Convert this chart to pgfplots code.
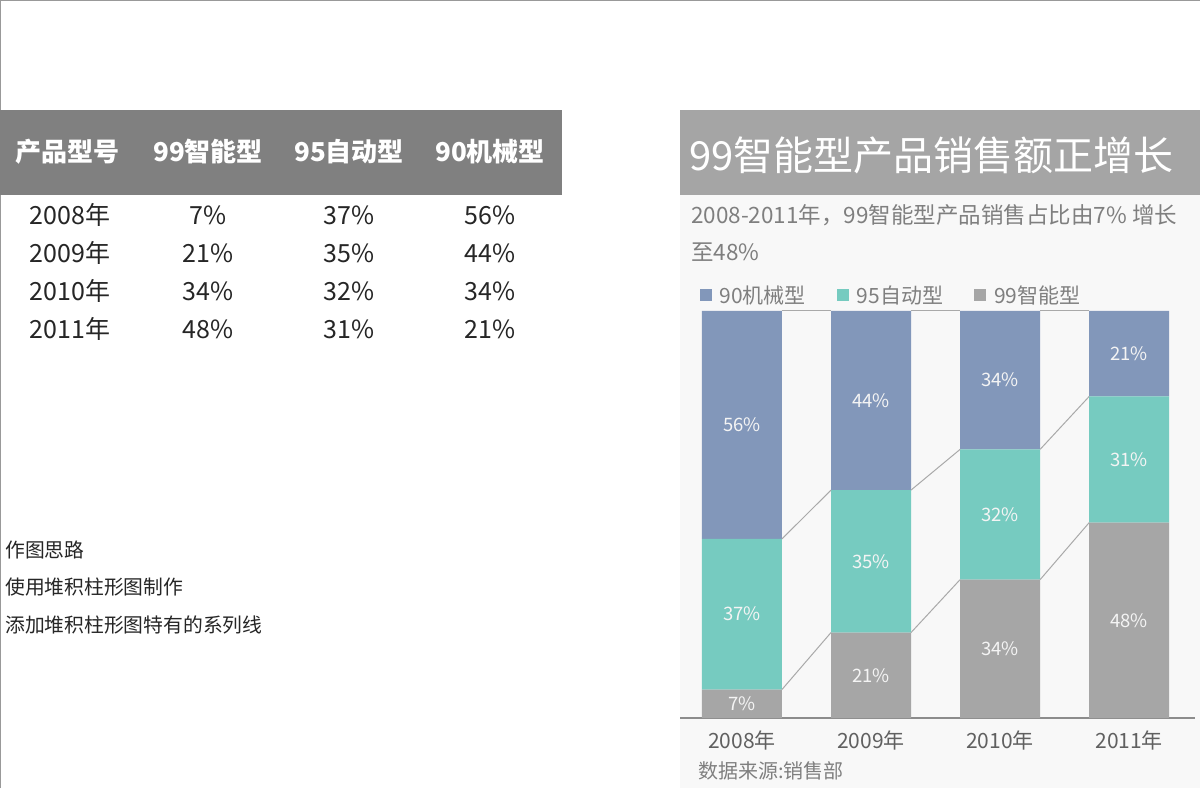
\documentclass[border=0pt]{standalone}
\usepackage{pgfplots}
\pgfplotsset{compat=1.18}
\usepackage{fontspec}
\setmainfont{Noto Sans CJK SC}
\definecolor{headgray}{HTML}{808080}
\definecolor{titlegray}{HTML}{A5A5A5}
\definecolor{panel}{HTML}{F8F8F8}
\definecolor{c90}{HTML}{8297BA}
\definecolor{c95}{HTML}{76CBC0}
\definecolor{c99}{HTML}{A6A6A6}
\definecolor{subgray}{HTML}{7F7F7F}
\definecolor{tickgray}{HTML}{606060}
\definecolor{linegray}{HTML}{A9A9A9}
\definecolor{axisgray}{HTML}{8C8C8C}
\definecolor{labc}{HTML}{F4F4F4}
\newcommand\fs[1]{\fontsize{#1}{#1}\selectfont}

\begin{document}
\begin{tikzpicture}[x=1pt,y=1pt]
\path[use as bounding box] (0,0) rectangle (1200,788);
\fill[white] (0,0) rectangle (1200,788);
\draw[gray!80, line width=1pt] (0.5,0) -- (0.5,787.5) -- (1200,787.5);

% data table on the left
\fill[headgray] (0,593) rectangle (562,678);
\begin{scope}[every node/.style={inner sep=0pt, text=white, font=\fs{26}\bfseries}]
  \node at (68,636) {产品型号};
  \node at (208,636) {99智能型};
  \node at (349,636) {95自动型};
  \node at (490,636) {90机械型};
\end{scope}
\begin{scope}[every node/.style={inner sep=0pt, text=black!85, font=\fs{25}}]
  \node at (70,573) {2008年}; \node at (208,573) {7\%};  \node at (349,573) {37\%}; \node at (490,573) {56\%};
  \node at (70,535) {2009年}; \node at (208,535) {21\%}; \node at (349,535) {35\%}; \node at (490,535) {44\%};
  \node at (70,497) {2010年}; \node at (208,497) {34\%}; \node at (349,497) {32\%}; \node at (490,497) {34\%};
  \node at (70,459) {2011年}; \node at (208,459) {48\%}; \node at (349,459) {31\%}; \node at (490,459) {21\%};
\end{scope}

% notes
\begin{scope}[every node/.style={inner sep=0pt, anchor=west, text=black!85, font=\fs{19.8}}]
  \node at (5,238) {作图思路};
  \node at (5,201) {使用堆积柱形图制作};
  \node at (5,163) {添加堆积柱形图特有的系列线};
\end{scope}

% chart panel
\fill[panel] (680,0) rectangle (1200,593);
\fill[titlegray] (680,593) rectangle (1200,678);
\node[inner sep=0pt, anchor=west, text=white, font=\fs{40}] at (689,633) {99智能型产品销售额正增长};
\node[inner sep=0pt, anchor=west, text=subgray, font=\fs{22.5}] at (691,573) {2008-2011年，99智能型产品销售占比由7\% 增长};
\node[inner sep=0pt, anchor=west, text=subgray, font=\fs{22.5}] at (691,536) {至48\%};
\node[inner sep=0pt, anchor=west, text=subgray, font=\fs{20}] at (698,17) {数据来源:销售部};

\begin{axis}[
  at={(680pt,70pt)}, anchor=south west,
  width=515pt, height=407pt, scale only axis,
  xmin=-0.48, xmax=3.51, ymin=0, ymax=100,
  ybar stacked, bar width=80pt,
  axis x line=bottom, axis y line=none,
  x axis line style={-, draw=axisgray, line width=1.5pt},
  xtick={0,1,2,3},
  xticklabels={2008年,2009年,2010年,2011年},
  major tick length=0pt,
  xticklabel style={font=\fs{21}, text=tickgray, yshift=-9pt},
  ytick=\empty,
  legend style={at={(0.032,1.039)}, anchor=west, draw=none, fill=none,
    legend columns=3, font=\fs{21}, text=subgray,
    /tikz/every odd column/.append style={column sep=6pt},
    /tikz/every even column/.append style={column sep=29pt}},
  legend image code/.code={\fill[#1, draw=none] (0pt,-6pt) rectangle (12pt,6pt);},
]
\addplot[fill=c99, draw=none, forget plot] coordinates {(0,7) (1,21) (2,34) (3,48)};
\addplot[fill=c95, draw=none, forget plot] coordinates {(0,37) (1,35) (2,32) (3,31)};
\addplot[fill=c90, draw=none, forget plot] coordinates {(0,56) (1,44) (2,34) (3,21)};
\addlegendimage{fill=c90, draw=none}\addlegendentry{90机械型}
\addlegendimage{fill=c95, draw=none}\addlegendentry{95自动型}
\addlegendimage{fill=c99, draw=none}\addlegendentry{99智能型}
\end{axis}

% series lines and data labels
\begin{axis}[
  at={(680pt,70pt)}, anchor=south west,
  width=515pt, height=407pt, scale only axis,
  xmin=-0.48, xmax=3.51, ymin=0, ymax=100,
  hide axis, clip=false,
]
\addplot[linegray, line width=1pt] coordinates {(0.31,7) (0.69,21)};
\addplot[linegray, line width=1pt] coordinates {(1.31,21) (1.69,34)};
\addplot[linegray, line width=1pt] coordinates {(2.31,34) (2.69,48)};
\addplot[linegray, line width=1pt] coordinates {(0.31,44) (0.69,56)};
\addplot[linegray, line width=1pt] coordinates {(1.31,56) (1.69,66)};
\addplot[linegray, line width=1pt] coordinates {(2.31,66) (2.69,79)};
\addplot[linegray, line width=1pt] coordinates {(0.31,100) (0.69,100)};
\addplot[linegray, line width=1pt] coordinates {(1.31,100) (1.69,100)};
\addplot[linegray, line width=1pt] coordinates {(2.31,100) (2.69,100)};
\addplot[draw=none, mark=none, nodes near coords, point meta=explicit symbolic,
  every node near coord/.append style={anchor=center, inner sep=0pt, font=\fs{18.5}, text=labc}]
  coordinates {
  (0,3.5)[7\%] (0,25.5)[37\%] (0,72)[56\%]
  (1,10.5)[21\%] (1,38.5)[35\%] (1,78)[44\%]
  (2,17)[34\%] (2,50)[32\%] (2,83)[34\%]
  (3,24)[48\%] (3,63.5)[31\%] (3,89.5)[21\%]
  };
\end{axis}
\end{tikzpicture}
\end{document}
